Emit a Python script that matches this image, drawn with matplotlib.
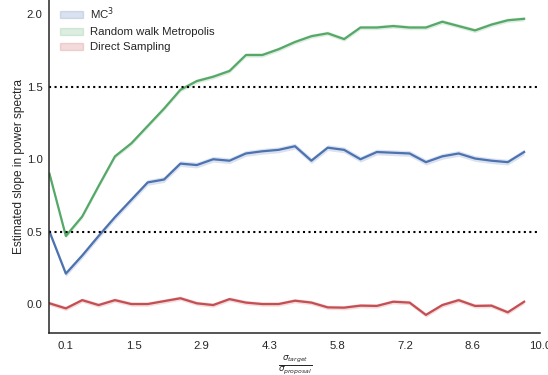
import numpy as np
import matplotlib
matplotlib.use("Agg")
import matplotlib.pyplot as plt
from matplotlib.patches import Patch

# sigma_target / sigma_proposal, labels shown on the x axis
tick_labels = ["0.1", "1.5", "2.9", "4.3", "5.8", "7.2", "8.6", "10.0"]

# mean estimated slope per step (30 steps)
mc3 = [0.50, 0.21, 0.335, 0.47, 0.60, 0.72, 0.84, 0.86, 0.97, 0.96,
       1.00, 0.99, 1.04, 1.055, 1.065, 1.09, 0.99, 1.08, 1.065, 1.00,
       1.05, 1.045, 1.04, 0.98, 1.02, 1.04, 1.005, 0.99, 0.98, 1.05]
rwm = [0.90, 0.47, 0.605, 0.815, 1.02, 1.11, 1.23, 1.35, 1.48, 1.54,
       1.57, 1.61, 1.72, 1.72, 1.76, 1.81, 1.85, 1.87, 1.83, 1.91,
       1.91, 1.92, 1.91, 1.91, 1.95, 1.92, 1.89, 1.93, 1.96, 1.97]
direct = [0.005, -0.03, 0.027, -0.007, 0.027, 0.0, 0.0, 0.02, 0.04, 0.005,
          -0.007, 0.034, 0.01, 0.0, 0.0, 0.023, 0.01, -0.023, -0.025, -0.011,
          -0.013, 0.016, 0.01, -0.075, -0.007, 0.027, -0.013, -0.011, -0.057, 0.016]

# half width of the confidence band for each series
ci_mc3 = 0.02
ci_rwm = 0.015
ci_direct = 0.015

names = ["MC$^3$", "Random walk Metropolis", "Direct Sampling"]
colors = ["#4C72B0", "#55A868", "#C44E52"]

plt.rcParams['font.family'] = ['Liberation Sans', 'DejaVu Sans']
plt.rcParams['text.color'] = '#262626'
plt.rcParams['axes.labelcolor'] = '#262626'
plt.rcParams['xtick.color'] = '#262626'
plt.rcParams['ytick.color'] = '#262626'

fig = plt.figure(figsize=(5.48, 3.75), dpi=100)
ax = fig.add_axes([0.0903, 0.112, 0.896, 0.888])

steps = np.arange(len(mc3))
for vals, ci, c in zip([mc3, rwm, direct], [ci_mc3, ci_rwm, ci_direct], colors):
    vals = np.array(vals)
    ax.fill_between(steps, vals - ci, vals + ci, color=c, alpha=0.2, lw=0)
    ax.plot(steps, vals, color=c, lw=1.6)

ax.axhline(0.5, color='k', ls=':', lw=1.5)
ax.axhline(1.5, color='k', ls=':', lw=1.5)

ax.set_xlim(0, 30)
ax.set_ylim(-0.2, 2.1)
ax.set_xticks(np.linspace(1, 30, len(tick_labels)))
ax.set_xticklabels(tick_labels)
ax.set_yticks([0.0, 0.5, 1.0, 1.5, 2.0])
ax.tick_params(axis='x', length=0, labelsize=8.2, pad=6)
ax.tick_params(axis='y', length=0, labelsize=8.2, pad=5)
ax.set_xlabel(r"$\frac{\sigma_{target}}{\sigma_{proposal}}$", fontsize=9, labelpad=1)
ax.set_ylabel("Estimated slope in power spectra", fontsize=8.6, labelpad=1)
for s in ['top', 'right']:
    ax.spines[s].set_visible(False)
for s in ['left', 'bottom']:
    ax.spines[s].set_color('#262626')
    ax.spines[s].set_linewidth(1.1)

handles = [Patch(color=c, alpha=0.2) for c in colors]
ax.legend(handles, names, loc='upper left', frameon=False, fontsize=8.2,
          handlelength=2.0, handleheight=0.6, handletextpad=0.65,
          labelspacing=0.45, bbox_to_anchor=(0.0, 1.014))

fig.savefig("out.png", dpi=100)
